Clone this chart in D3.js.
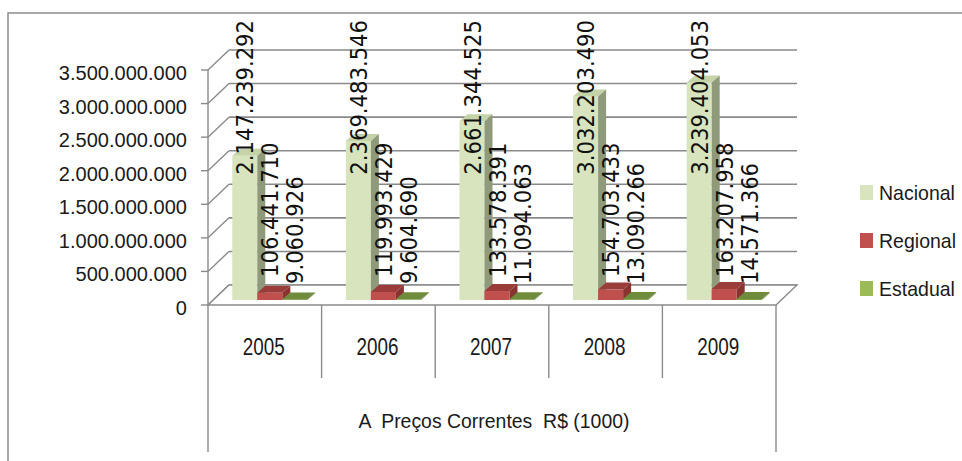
<!DOCTYPE html>
<html>
<head>
<meta charset="utf-8">
<script src="https://cdn.jsdelivr.net/npm/d3@7"></script>
<style>
  body { margin: 0; background: #fff; }
  text { font-family: "Liberation Sans", Arial, sans-serif; fill: #1a1a1a; }
  .lbl { font-family: "DejaVu Sans", Verdana, sans-serif; fill: #111; }
</style>
</head>
<body>
<div id="chart"></div>
<script>

var years = ["2005", "2006", "2007", "2008", "2009"];
var seriesNames = ["Nacional", "Regional", "Estadual"];
var nacional = [2147239292, 2369483546, 2661344525, 3032203490, 3239404053];
var regional = [106441710, 119993429, 133578391, 154703433, 163207958];
var estadual = [9060926, 9604690, 11094063, 13090266, 14571366];
var yTicks = [0, 500000000, 1000000000, 1500000000, 2000000000, 2500000000, 3000000000, 3500000000];
var axisTitle = "A  Preços Correntes  R$ (1000)";

var width = 962, height = 461;
var svg = d3.select("#chart").append("svg")
    .attr("width", width)
    .attr("height", height);

var br = d3.formatLocale({ decimal: ",", thousands: ".", grouping: [3], currency: ["R$", ""] });
var fmt = br.format(",d");

// front plane of the floor, wall depth, bar plane shift and bar depth
var left = 208, right = 776;
var wall = { dx: 21, dy: -20 };
var plane = { dx: 5, dy: -5 };
var depth = { dx: 8, dy: -7 };
var groupW = 75;

var x = d3.scaleBand().domain(years).range([left, right]);
var xs = d3.scaleBand().domain(seriesNames).range([0, groupW]);
var y = d3.scaleLinear().domain([0, 3500000000]).range([305, 70]);

var colors = {
    Nacional: { front: "#d7e4bd", top: "#c5d3a8", side: "#8f9a7b", legend: "#d7e4bd" },
    Regional: { front: "#c0504d", top: "#9a3d3a", side: "#8a3432", legend: "#c0504d" },
    Estadual: { front: "#7a9a45", top: "#6f8c3c", side: "#5f7a33", legend: "#9bbb59" }
};
var values = { Nacional: nacional, Regional: regional, Estadual: estadual };

var grid = "#8a8a8a";

// narrow text: the original font is condensed, so squeeze horizontally
function squeeze(sel, px, py, sx) {
    sel.attr("transform", function (d, i) {
        return "translate(" + px(d, i) + "," + py(d, i) + ") scale(" + sx + ",1)";
    });
}

// outer frame
svg.append("rect")
    .attr("x", 8).attr("y", 13)
    .attr("width", 1000).attr("height", 500)
    .attr("fill", "none").attr("stroke", "#8c8c8c").attr("stroke-width", 1.5);

// back wall gridlines
svg.append("g").selectAll("line")
    .data(yTicks)
    .enter().append("line")
    .attr("x1", left + wall.dx).attr("x2", right + wall.dx)
    .attr("y1", function (d) { return y(d) + wall.dy; })
    .attr("y2", function (d) { return y(d) + wall.dy; })
    .attr("stroke", grid).attr("stroke-width", 1.6);

// left wall diagonals
svg.append("g").selectAll("line")
    .data(yTicks)
    .enter().append("line")
    .attr("x1", left).attr("x2", left + wall.dx)
    .attr("y1", function (d) { return y(d); })
    .attr("y2", function (d) { return y(d) + wall.dy; })
    .attr("stroke", grid).attr("stroke-width", 1.4);

// floor
var y0 = y(0);
svg.append("polygon")
    .attr("points", [[left, y0], [left + wall.dx, y0 + wall.dy], [right + wall.dx, y0 + wall.dy], [right, y0]].join(" "))
    .attr("fill", "#fff").attr("stroke", grid).attr("stroke-width", 1.4);

// y axis line and ticks
svg.append("line")
    .attr("x1", left).attr("x2", left)
    .attr("y1", y(3500000000)).attr("y2", y0)
    .attr("stroke", grid).attr("stroke-width", 1.4);

var yAxis = svg.append("g").selectAll("g")
    .data(yTicks)
    .enter().append("g");
yAxis.append("line")
    .attr("x1", left - 7).attr("x2", left)
    .attr("y1", function (d) { return y(d); })
    .attr("y2", function (d) { return y(d); })
    .attr("stroke", grid).attr("stroke-width", 1.4);
yAxis.append("text")
    .attr("text-anchor", "end")
    .attr("font-size", 21)
    .text(function (d) { return fmt(d); })
    .call(squeeze, function () { return left - 21; }, function (d) { return y(d) + 10; }, 0.955);

// category separators below the floor
var bounds = years.map(function (d) { return x(d); }).concat([right]);
svg.append("g").selectAll("line")
    .data(bounds)
    .enter().append("line")
    .attr("x1", function (d) { return d; })
    .attr("x2", function (d) { return d; })
    .attr("y1", y0)
    .attr("y2", function (d, i) { return (i === 0 || i === bounds.length - 1) ? 452 : 378; })
    .attr("stroke", grid).attr("stroke-width", 1.4);

svg.append("g").selectAll("text")
    .data(years)
    .enter().append("text")
    .attr("text-anchor", "middle")
    .attr("font-size", 23)
    .text(function (d) { return d; })
    .call(squeeze, function (d) { return x(d) + x.bandwidth() / 2 - 1; }, function () { return 355; }, 0.82);

svg.append("text")
    .attr("x", (left + right) / 2 + 2)
    .attr("y", 428)
    .attr("text-anchor", "middle")
    .attr("font-size", 21)
    .attr("textLength", 271)
    .attr("lengthAdjust", "spacingAndGlyphs")
    .style("white-space", "pre")
    .text(axisTitle);

// bars
var bars = [];
years.forEach(function (yr, i) {
    seriesNames.forEach(function (s) {
        bars.push({ year: yr, series: s, value: values[s][i] });
    });
});

function barX(d) {
    return x(d.year) + (x.bandwidth() - groupW) / 2 + xs(d.series) + plane.dx;
}

var bw = xs.bandwidth();
var barG = svg.append("g").selectAll("g")
    .data(bars)
    .enter().append("g");

barG.append("rect")
    .attr("x", barX)
    .attr("y", function (d) { return y(d.value) + plane.dy; })
    .attr("width", bw)
    .attr("height", function (d) { return y0 - y(d.value); })
    .attr("fill", function (d) { return colors[d.series].front; });

barG.append("polygon")
    .attr("points", function (d) {
        var bx = barX(d), top = y(d.value) + plane.dy;
        return [[bx, top], [bx + depth.dx, top + depth.dy], [bx + bw + depth.dx, top + depth.dy], [bx + bw, top]].join(" ");
    })
    .attr("fill", function (d) { return colors[d.series].top; });

barG.append("polygon")
    .attr("points", function (d) {
        var bx = barX(d) + bw, top = y(d.value) + plane.dy, base = y0 + plane.dy;
        return [[bx, top], [bx + depth.dx, top + depth.dy], [bx + depth.dx, base + depth.dy], [bx, base]].join(" ");
    })
    .attr("fill", function (d) { return colors[d.series].side; });

// data labels, rotated, at fixed heights per series
var labelPos = {
    Nacional: { anchor: "end", y: y(3500000000) - 50 },
    Regional: { anchor: "start", y: y0 - 28 },
    Estadual: { anchor: "start", y: y0 - 21 }
};

svg.append("g").selectAll("text")
    .data(bars)
    .enter().append("text")
    .attr("class", "lbl")
    .attr("font-size", 23)
    .attr("text-anchor", function (d) { return labelPos[d.series].anchor; })
    .attr("transform", function (d) {
        var cx = barX(d) + bw / 2 + 8.5;
        return "translate(" + cx + "," + labelPos[d.series].y + ") rotate(-90) scale(0.92,1)";
    })
    .text(function (d) { return fmt(d.value); });

// legend
var legend = svg.append("g").selectAll("g")
    .data(seriesNames)
    .enter().append("g")
    .attr("transform", function (d, i) { return "translate(860," + (185 + i * 48) + ")"; });
legend.append("rect")
    .attr("width", 13).attr("height", 15)
    .attr("fill", function (d) { return colors[d].legend; });
legend.append("text")
    .attr("font-size", 21)
    .text(function (d) { return d; })
    .call(squeeze, function () { return 19; }, function () { return 15; }, 0.93);

</script>
</body>
</html>
